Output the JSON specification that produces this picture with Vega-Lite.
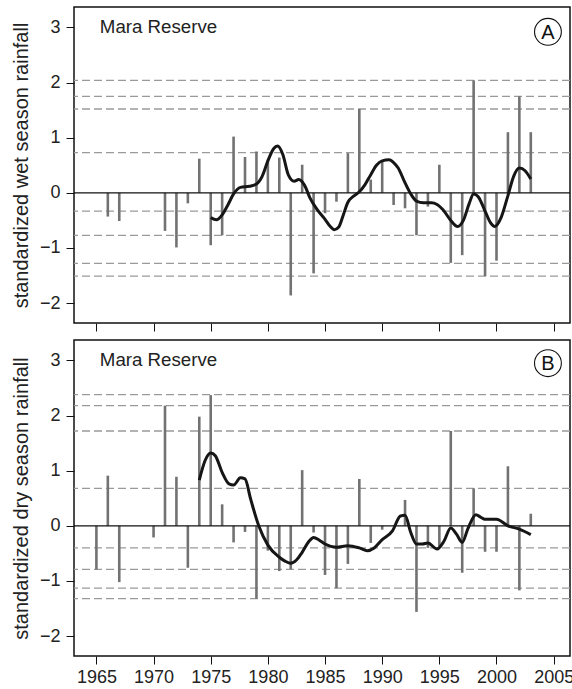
{
  "$schema": "https://vega.github.io/schema/vega-lite/v6.json",
  "autosize": {"type": "pad"},
  "padding": {"left": 10, "top": 6, "right": 0, "bottom": 4},
  "background": "white",
  "spacing": 17,
  "bounds": "flush",
  "config": {
    "font": "Liberation Sans",
    "view": {"stroke": "#111", "strokeWidth": 1.5},
    "axis": {
      "grid": false,
      "domain": false,
      "ticks": true,
      "tickColor": "#111",
      "tickWidth": 1,
      "tickSize": 8,
      "labelFont": "Liberation Sans",
      "labelFontSize": 18,
      "labelColor": "#222",
      "titleFont": "Liberation Sans",
      "titleFontSize": 20,
      "titleFontWeight": "normal",
      "titleColor": "#222"
    }
  },
  "datasets": {
    "wet": [
      {"year": 1966, "value": -0.43}, {"year": 1967, "value": -0.51},
      {"year": 1971, "value": -0.69}, {"year": 1972, "value": -0.99},
      {"year": 1973, "value": -0.19}, {"year": 1974, "value": 0.62},
      {"year": 1975, "value": -0.95}, {"year": 1976, "value": -0.77},
      {"year": 1977, "value": 1.02}, {"year": 1978, "value": 0.65},
      {"year": 1979, "value": 0.75}, {"year": 1980, "value": 0.6},
      {"year": 1981, "value": 0.64}, {"year": 1982, "value": -1.86},
      {"year": 1983, "value": 0.51}, {"year": 1984, "value": -1.46},
      {"year": 1985, "value": -0.37}, {"year": 1986, "value": -0.16},
      {"year": 1987, "value": 0.72}, {"year": 1988, "value": 1.52},
      {"year": 1989, "value": 0.24}, {"year": 1990, "value": 0.56},
      {"year": 1991, "value": -0.22}, {"year": 1992, "value": -0.28},
      {"year": 1993, "value": -0.77}, {"year": 1994, "value": -0.25},
      {"year": 1995, "value": 0.51}, {"year": 1996, "value": -1.27},
      {"year": 1997, "value": -1.13}, {"year": 1998, "value": 2.04},
      {"year": 1999, "value": -1.51}, {"year": 2000, "value": -1.23},
      {"year": 2001, "value": 1.1}, {"year": 2002, "value": 1.75},
      {"year": 2003, "value": 1.1}
    ],
    "dry": [
      {"year": 1965, "value": -0.79}, {"year": 1966, "value": 0.91},
      {"year": 1967, "value": -1.02}, {"year": 1970, "value": -0.21},
      {"year": 1971, "value": 2.18}, {"year": 1972, "value": 0.89},
      {"year": 1973, "value": -0.76}, {"year": 1974, "value": 1.98},
      {"year": 1975, "value": 2.37}, {"year": 1976, "value": 0.39},
      {"year": 1977, "value": -0.3}, {"year": 1978, "value": -0.11},
      {"year": 1979, "value": -1.32}, {"year": 1980, "value": -0.45},
      {"year": 1981, "value": -0.82}, {"year": 1982, "value": -0.79},
      {"year": 1983, "value": 1.01}, {"year": 1984, "value": -0.12},
      {"year": 1985, "value": -0.89}, {"year": 1986, "value": -1.13},
      {"year": 1987, "value": -0.69}, {"year": 1988, "value": 0.85},
      {"year": 1989, "value": -0.31}, {"year": 1990, "value": -0.07},
      {"year": 1992, "value": 0.47}, {"year": 1993, "value": -1.56},
      {"year": 1994, "value": -0.4}, {"year": 1995, "value": -0.37},
      {"year": 1996, "value": 1.72}, {"year": 1997, "value": -0.85},
      {"year": 1998, "value": 0.68}, {"year": 1999, "value": -0.47},
      {"year": 2000, "value": -0.47}, {"year": 2001, "value": 1.08},
      {"year": 2002, "value": -1.17}, {"year": 2003, "value": 0.22}
    ],
    "wetSmooth": [
      {"year": 1975.0, "value": -0.45}, {"year": 1975.5, "value": -0.49},
      {"year": 1976.0, "value": -0.4}, {"year": 1976.5, "value": -0.22},
      {"year": 1977.0, "value": -0.02}, {"year": 1977.6, "value": 0.1},
      {"year": 1978.4, "value": 0.12}, {"year": 1979.0, "value": 0.16},
      {"year": 1979.5, "value": 0.3}, {"year": 1980.0, "value": 0.58},
      {"year": 1980.5, "value": 0.8}, {"year": 1980.85, "value": 0.85},
      {"year": 1981.3, "value": 0.7}, {"year": 1981.8, "value": 0.32},
      {"year": 1982.3, "value": 0.21}, {"year": 1982.7, "value": 0.24},
      {"year": 1983.2, "value": 0.14}, {"year": 1983.7, "value": -0.1},
      {"year": 1984.3, "value": -0.3}, {"year": 1985.0, "value": -0.48},
      {"year": 1985.5, "value": -0.62}, {"year": 1985.8, "value": -0.67},
      {"year": 1986.2, "value": -0.62}, {"year": 1986.6, "value": -0.4},
      {"year": 1987.0, "value": -0.17}, {"year": 1987.5, "value": -0.06},
      {"year": 1988.0, "value": 0.02}, {"year": 1988.5, "value": 0.15},
      {"year": 1989.0, "value": 0.33}, {"year": 1989.5, "value": 0.5},
      {"year": 1990.0, "value": 0.58}, {"year": 1990.6, "value": 0.6},
      {"year": 1991.0, "value": 0.55}, {"year": 1991.4, "value": 0.45},
      {"year": 1992.0, "value": 0.18}, {"year": 1992.5, "value": -0.02},
      {"year": 1993.0, "value": -0.15}, {"year": 1993.6, "value": -0.18},
      {"year": 1994.3, "value": -0.18}, {"year": 1994.8, "value": -0.21},
      {"year": 1995.3, "value": -0.3}, {"year": 1996.0, "value": -0.5},
      {"year": 1996.6, "value": -0.61}, {"year": 1997.1, "value": -0.5},
      {"year": 1997.6, "value": -0.2}, {"year": 1998.0, "value": -0.02},
      {"year": 1998.4, "value": -0.07}, {"year": 1999.0, "value": -0.33},
      {"year": 1999.5, "value": -0.55}, {"year": 1999.85, "value": -0.61},
      {"year": 2000.4, "value": -0.45}, {"year": 2001.0, "value": -0.05},
      {"year": 2001.5, "value": 0.3}, {"year": 2002.0, "value": 0.45},
      {"year": 2002.5, "value": 0.4}, {"year": 2003.0, "value": 0.25}
    ],
    "drySmooth": [
      {"year": 1974.0, "value": 0.83}, {"year": 1974.5, "value": 1.18},
      {"year": 1975.0, "value": 1.32}, {"year": 1975.4, "value": 1.27},
      {"year": 1976.0, "value": 0.97}, {"year": 1976.6, "value": 0.76},
      {"year": 1977.0, "value": 0.74}, {"year": 1977.6, "value": 0.87},
      {"year": 1978.0, "value": 0.85}, {"year": 1978.5, "value": 0.48},
      {"year": 1979.2, "value": 0.0}, {"year": 1980.0, "value": -0.35},
      {"year": 1981.0, "value": -0.57}, {"year": 1981.5, "value": -0.64},
      {"year": 1982.0, "value": -0.68}, {"year": 1982.5, "value": -0.62},
      {"year": 1983.0, "value": -0.48}, {"year": 1983.6, "value": -0.28},
      {"year": 1984.0, "value": -0.21}, {"year": 1984.5, "value": -0.26},
      {"year": 1985.0, "value": -0.33}, {"year": 1986.0, "value": -0.39},
      {"year": 1987.0, "value": -0.36}, {"year": 1988.0, "value": -0.4},
      {"year": 1988.7, "value": -0.45}, {"year": 1989.3, "value": -0.4},
      {"year": 1990.0, "value": -0.25}, {"year": 1990.9, "value": -0.09},
      {"year": 1991.6, "value": 0.18}, {"year": 1992.0, "value": 0.19},
      {"year": 1992.5, "value": -0.12}, {"year": 1993.0, "value": -0.33},
      {"year": 1993.5, "value": -0.33}, {"year": 1994.0, "value": -0.31},
      {"year": 1994.8, "value": -0.42}, {"year": 1995.4, "value": -0.28},
      {"year": 1996.0, "value": -0.04}, {"year": 1996.5, "value": -0.15},
      {"year": 1997.0, "value": -0.3}, {"year": 1997.5, "value": -0.05},
      {"year": 1998.2, "value": 0.2}, {"year": 1998.6, "value": 0.16},
      {"year": 1999.0, "value": 0.12}, {"year": 2000.0, "value": 0.12},
      {"year": 2001.0, "value": 0.0}, {"year": 2002.0, "value": -0.06},
      {"year": 2003.0, "value": -0.16}
    ],
    "wetLevels": [
      {"level": 2.04}, {"level": 1.75}, {"level": 1.52}, {"level": 0.73},
      {"level": -0.33}, {"level": -0.77}, {"level": -1.28}, {"level": -1.51}
    ],
    "dryLevels": [
      {"level": 2.38}, {"level": 2.18}, {"level": 1.72}, {"level": 0.68},
      {"level": -0.4}, {"level": -0.79}, {"level": -1.13}, {"level": -1.32}
    ],
    "one": [{}]
  },
  "vconcat": [
    {
      "width": 496,
      "height": 316,
      "layer": [
        {
          "data": {"name": "wetLevels"},
          "mark": {"type": "rule", "color": "#9a9a9a", "strokeWidth": 1.3, "strokeDash": [8, 4]},
          "encoding": {
            "y": {"field": "level", "type": "quantitative",
                  "scale": {"domain": [-2.36, 3.37], "nice": false, "zero": false},
                  "axis": {"values": [-2, -1, 0, 1, 2, 3], "title": "standardized wet season rainfall", "labelPadding": 6, "titlePadding": 8}}
          }
        },
        {
          "data": {"name": "wet"},
          "mark": {"type": "rule", "color": "#727272", "strokeWidth": 2.6},
          "encoding": {
            "x": {"field": "year", "type": "quantitative",
                  "scale": {"domain": [1963.04, 2006.43], "nice": false, "zero": false},
                  "axis": {"values": [1965, 1970, 1975, 1980, 1985, 1990, 1995, 2000, 2005], "labels": false, "title": null}},
            "y": {"field": "value", "type": "quantitative"},
            "y2": {"datum": 0}
          }
        },
        {
          "data": {"name": "one"},
          "mark": {"type": "rule", "color": "#111", "strokeWidth": 1.3},
          "encoding": {"y": {"datum": 0}}
        },
        {
          "data": {"name": "wetSmooth"},
          "mark": {"type": "line", "color": "#161616", "strokeWidth": 3, "interpolate": "monotone"},
          "encoding": {
            "x": {"field": "year", "type": "quantitative"},
            "y": {"field": "value", "type": "quantitative"}
          }
        },
        {
          "data": {"name": "one"},
          "mark": {"type": "text", "text": "Mara Reserve", "align": "left", "baseline": "middle", "fontSize": 18.7, "color": "#222"},
          "encoding": {"x": {"datum": 1965.3}, "y": {"datum": 3.0}}
        },
        {
          "data": {"name": "one"},
          "mark": {"type": "point", "shape": "circle", "filled": false, "size": 720, "stroke": "#111", "strokeWidth": 1.1, "opacity": 1},
          "encoding": {"x": {"datum": 2004.5}, "y": {"datum": 2.92}}
        },
        {
          "data": {"name": "one"},
          "mark": {"type": "text", "text": "A", "align": "center", "baseline": "middle", "fontSize": 20, "color": "#111", "dy": 1},
          "encoding": {"x": {"datum": 2004.5}, "y": {"datum": 2.92}}
        }
      ]
    },
    {
      "width": 496,
      "height": 316,
      "layer": [
        {
          "data": {"name": "dryLevels"},
          "mark": {"type": "rule", "color": "#9a9a9a", "strokeWidth": 1.3, "strokeDash": [8, 4]},
          "encoding": {
            "y": {"field": "level", "type": "quantitative",
                  "scale": {"domain": [-2.36, 3.37], "nice": false, "zero": false},
                  "axis": {"values": [-2, -1, 0, 1, 2, 3], "title": "standardized dry season rainfall", "labelPadding": 6, "titlePadding": 8}}
          }
        },
        {
          "data": {"name": "dry"},
          "mark": {"type": "rule", "color": "#727272", "strokeWidth": 2.6},
          "encoding": {
            "x": {"field": "year", "type": "quantitative",
                  "scale": {"domain": [1963.04, 2006.43], "nice": false, "zero": false},
                  "axis": {"values": [1965, 1970, 1975, 1980, 1985, 1990, 1995, 2000, 2005], "format": "d", "title": null, "labelPadding": 4}},
            "y": {"field": "value", "type": "quantitative"},
            "y2": {"datum": 0}
          }
        },
        {
          "data": {"name": "one"},
          "mark": {"type": "rule", "color": "#111", "strokeWidth": 1.3},
          "encoding": {"y": {"datum": 0}}
        },
        {
          "data": {"name": "drySmooth"},
          "mark": {"type": "line", "color": "#161616", "strokeWidth": 3, "interpolate": "monotone"},
          "encoding": {
            "x": {"field": "year", "type": "quantitative"},
            "y": {"field": "value", "type": "quantitative"}
          }
        },
        {
          "data": {"name": "one"},
          "mark": {"type": "text", "text": "Mara Reserve", "align": "left", "baseline": "middle", "fontSize": 18.7, "color": "#222"},
          "encoding": {"x": {"datum": 1965.3}, "y": {"datum": 3.0}}
        },
        {
          "data": {"name": "one"},
          "mark": {"type": "point", "shape": "circle", "filled": false, "size": 720, "stroke": "#111", "strokeWidth": 1.1, "opacity": 1},
          "encoding": {"x": {"datum": 2004.5}, "y": {"datum": 2.95}}
        },
        {
          "data": {"name": "one"},
          "mark": {"type": "text", "text": "B", "align": "center", "baseline": "middle", "fontSize": 20, "color": "#111", "dy": 1},
          "encoding": {"x": {"datum": 2004.5}, "y": {"datum": 2.95}}
        }
      ]
    }
  ]
}
